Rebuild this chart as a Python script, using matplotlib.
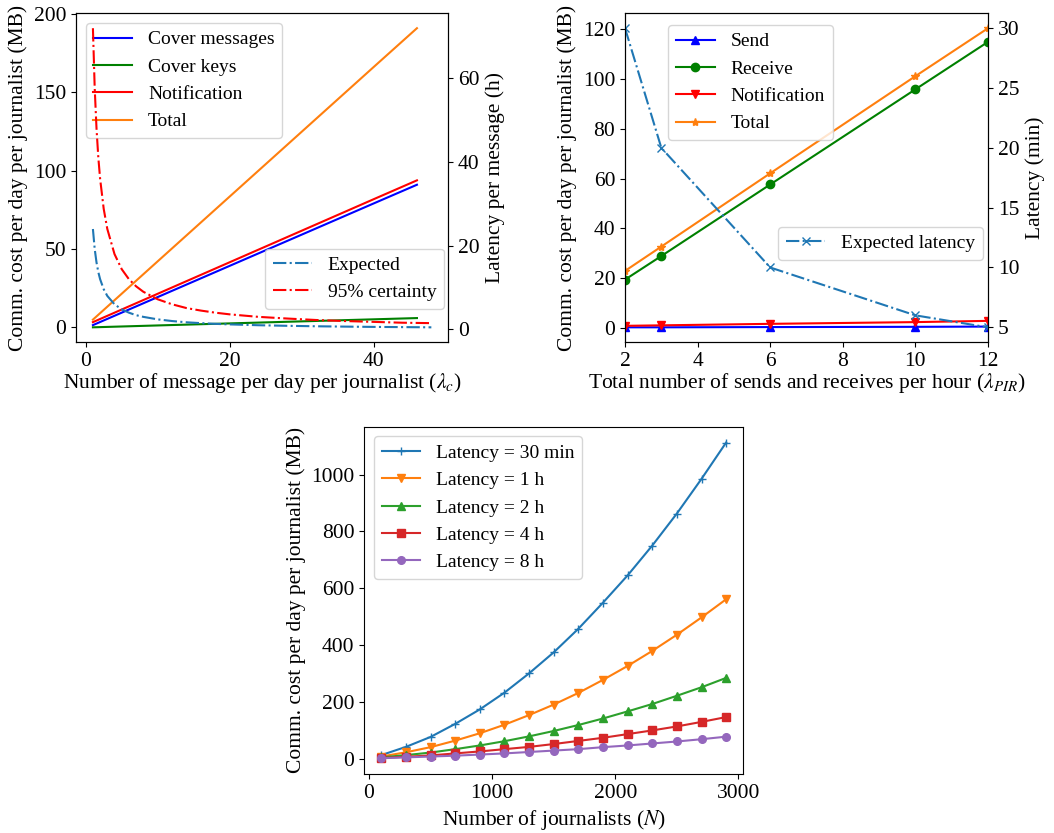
import matplotlib
matplotlib.use("Agg")
import matplotlib.pyplot as plt

plt.rcParams["font.family"] = "serif"
plt.rcParams["font.serif"] = ["Liberation Serif", "DejaVu Serif"]
plt.rcParams["mathtext.fontset"] = "stix"
plt.rcParams["font.size"] = 15.5
plt.rcParams["legend.fontsize"] = 14

# ---------------------------------------------------------------------------
# Top-left: cost vs messages per day
# ---------------------------------------------------------------------------
msg_x = [1, 10, 20, 30, 40, 46]
cover_messages = [1.5, 19.4, 39.3, 59.2, 79.1, 91.0]
cover_keys = [0.1, 1.3, 2.6, 3.9, 5.2, 6.0]
notification = [3.4, 21.5, 41.6, 61.7, 81.8, 93.8]
total = [5.0, 42.2, 83.5, 124.8, 166.1, 190.8]

lat_x = [1, 1.25, 1.5, 1.75, 2, 2.5, 3, 4, 5, 6, 7, 8, 10, 12, 14, 16, 18, 20,
         24, 28, 32, 36, 40, 44, 48]
lat_expected = [24, 19.2, 16, 13.7, 12, 9.6, 8, 6, 4.8, 4, 3.4, 3, 2.4, 2, 1.7,
                1.5, 1.33, 1.2, 1.0, 0.86, 0.75, 0.67, 0.6, 0.55, 0.5]
lat_95 = [72, 57.6, 48, 41.1, 36, 28.8, 24, 18, 14.4, 12, 10.3, 9, 7.2, 6, 5.1,
          4.5, 4, 3.6, 3, 2.6, 2.25, 2, 1.8, 1.6, 1.5]

# ---------------------------------------------------------------------------
# Top-right: cost vs PIR rate
# ---------------------------------------------------------------------------
pir_x = [2, 3, 6, 10, 12]
pir_send = [0.1, 0.1, 0.2, 0.3, 0.4]
pir_receive = [19.3, 28.8, 57.6, 95.9, 115.0]
pir_notification = [0.7, 0.9, 1.5, 2.2, 2.7]
pir_total = [22.8, 32.6, 62.1, 101.2, 120.5]
pir_latency = [30, 20, 10, 6, 5]

# ---------------------------------------------------------------------------
# Bottom: cost vs number of journalists
# ---------------------------------------------------------------------------
journalists = [100, 300, 500, 700, 900, 1100, 1300, 1500, 1700, 1900,
               2100, 2300, 2500, 2700, 2900]
lat_labels = ["Latency = 30 min", "Latency = 1 h", "Latency = 2 h",
              "Latency = 4 h", "Latency = 8 h"]
cost_30min = [12, 41, 76, 122, 173, 232, 300, 374, 457, 549, 645, 750, 863, 985, 1113]
cost_1h = [7, 22, 40, 63, 89, 119, 153, 190, 231, 277, 326, 379, 436, 497, 561]
cost_2h = [4, 12, 21, 33, 46, 61, 78, 97, 118, 141, 166, 192, 221, 251, 284]
cost_4h = [2, 6, 11, 18, 25, 33, 41, 51, 62, 73, 86, 99, 113, 129, 146]
cost_8h = [1, 4, 7, 10, 14, 18, 23, 28, 33, 40, 46, 53, 60, 68, 77]

ylabel_cost = "Comm. cost per day per journalist (MB)"

fig = plt.figure(figsize=(10.54, 8.33), dpi=100)

# --- top-left
ax1 = fig.add_axes([0.0721, 0.5891, 0.3532, 0.3950])
ax1.plot(msg_x, cover_messages, color="blue", label="Cover messages")
ax1.plot(msg_x, cover_keys, color="green", label="Cover keys")
ax1.plot(msg_x, notification, color="red", label="Notification")
ax1.plot(msg_x, total, color="C1", label="Total")
ax1.set_xlabel(r"Number of message per day per journalist ($\lambda_c$)", labelpad=0)
ax1.set_ylabel(ylabel_cost)
ax1.set_xticks([0, 20, 40])
ax1.set_yticks([0, 50, 100, 150, 200])
ax1.legend(loc="upper left")

ax2 = ax1.twinx()
ax2.plot(lat_x, lat_expected, "-.", color="C0", label="Expected")
ax2.plot(lat_x, lat_95, "-.", color="red", label="95% certainty")
ax2.set_ylabel("Latency per message (h)")
ax2.set_yticks([0, 20, 40, 60])
ax2.legend(loc="lower right", bbox_to_anchor=(0.989, 0.101), borderaxespad=0)

# --- top-right
ax3 = fig.add_axes([0.5930, 0.5891, 0.3444, 0.3950])
ax3.plot(pir_x, pir_send, marker="^", color="blue", label="Send")
ax3.plot(pir_x, pir_receive, marker="o", color="green", label="Receive")
ax3.plot(pir_x, pir_notification, marker="v", color="red", label="Notification")
ax3.plot(pir_x, pir_total, marker="*", color="C1", label="Total")
ax3.set_xlim(2, 12)
ax3.set_xticks([2, 4, 6, 8, 10, 12])
ax3.set_yticks([0, 20, 40, 60, 80, 100, 120])
ax3.set_xlabel(r"Total number of sends and receives per hour ($\lambda_{PIR}$)",
               labelpad=0)
ax3.set_ylabel(ylabel_cost)
ax3.legend(loc="upper left", bbox_to_anchor=(0.119, 0.964), borderaxespad=0)

ax4 = ax3.twinx()
ax4.plot(pir_x, pir_latency, "-.", marker="x", color="C0", label="Expected latency")
ax4.set_ylabel("Latency (min)")
ax4.set_yticks([5, 10, 15, 20, 25, 30])
ax4.legend(loc="lower right", bbox_to_anchor=(0.985, 0.25), borderaxespad=0)

# --- bottom
ax5 = fig.add_axes([0.3454, 0.0708, 0.3599, 0.4169])
series = [cost_30min, cost_1h, cost_2h, cost_4h, cost_8h]
markers = ["+", "v", "^", "s", "o"]
for i, (vals, mk, lab) in enumerate(zip(series, markers, lat_labels)):
    ax5.plot(journalists, vals, marker=mk, markersize=5.5, color=f"C{i}", label=lab)
ax5.set_xticks([0, 1000, 2000, 3000])
ax5.set_yticks([0, 200, 400, 600, 800, 1000])
ax5.set_xlabel(r"Number of journalists ($N$)")
ax5.set_ylabel(ylabel_cost)
ax5.legend(loc="upper left")

fig.savefig("out.png", dpi=100)
